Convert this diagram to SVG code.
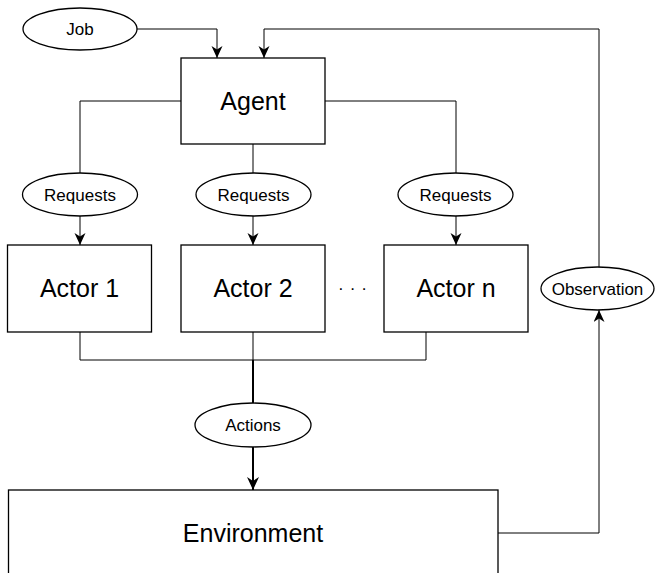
<svg xmlns="http://www.w3.org/2000/svg" width="655" height="573" viewBox="0 0 655 573">
<style>
.box{fill:#fff;stroke:#000;stroke-width:1.3}
.ell{fill:#fff;stroke:#000;stroke-width:1.3}
.big{font-family:"Liberation Sans",Arial,sans-serif;font-size:25px;fill:#000;text-anchor:middle}
.sm{font-family:"Liberation Sans",Arial,sans-serif;font-size:17px;fill:#000;text-anchor:middle}
.ln{fill:none;stroke:#000;stroke-width:1}
.th{fill:none;stroke:#000;stroke-width:2}
</style>
<defs>
<marker id="arr" markerUnits="userSpaceOnUse" markerWidth="13" markerHeight="12" refX="12" refY="5.5" orient="auto">
<path d="M0,0 L12,5.5 L0,11 L3.5,5.5 Z" fill="#000"/>
</marker>
<marker id="arr2" markerUnits="userSpaceOnUse" markerWidth="14" markerHeight="13" refX="13" refY="6" orient="auto">
<path d="M0,0 L13,6 L0,12 L4,6 Z" fill="#000"/>
</marker>
</defs>
<g id="connectors">
<path class="ln" d="M137,29 H217 V58" marker-end="url(#arr)"/>
<path class="ln" d="M599,267 V29 H264 V58" marker-end="url(#arr)"/>
<path class="ln" d="M181,101 H80 V173"/>
<path class="ln" d="M80,216 V245" marker-end="url(#arr)"/>
<path class="ln" d="M253,144 V173"/>
<path class="ln" d="M253,216 V245" marker-end="url(#arr)"/>
<path class="ln" d="M325,101 H456 V173"/>
<path class="ln" d="M456,216 V245" marker-end="url(#arr)"/>
<path class="ln" d="M80,332 V360 H426 V332"/>
<path class="ln" d="M253,332 V360"/>
<path class="th" d="M253,360 V403"/>
<path class="th" d="M253,447 V490" marker-end="url(#arr2)"/>
<path class="ln" d="M498,533 H599 V310" marker-end="url(#arr)"/>
</g>
<g id="job"><ellipse class="ell" cx="80" cy="29" rx="57" ry="21"/><text class="sm" x="80" y="35">Job</text></g>
<g id="agent"><rect class="box" x="181" y="58" width="144" height="86"/><text class="big" x="253" y="110">Agent</text></g>
<g id="req1"><ellipse class="ell" cx="80" cy="194.5" rx="57.5" ry="21.5"/><text class="sm" x="80" y="200.5">Requests</text></g>
<g id="req2"><ellipse class="ell" cx="253.5" cy="194.5" rx="57.5" ry="21.5"/><text class="sm" x="253.5" y="200.5">Requests</text></g>
<g id="req3"><ellipse class="ell" cx="455.5" cy="194.5" rx="57.5" ry="21.5"/><text class="sm" x="455.5" y="200.5">Requests</text></g>
<g id="actor1"><rect class="box" x="7.5" y="245" width="144" height="87"/><text class="big" x="79.5" y="297">Actor 1</text></g>
<g id="actor2"><rect class="box" x="181" y="245" width="144" height="87"/><text class="big" x="253" y="297">Actor 2</text></g>
<g id="dots"><text class="sm" x="356" y="290" letter-spacing="7">...</text></g>
<g id="actorn"><rect class="box" x="384" y="245" width="144" height="87"/><text class="big" x="456" y="297">Actor n</text></g>
<g id="observation"><ellipse class="ell" cx="597.5" cy="288.5" rx="56.5" ry="21.5"/><text class="sm" x="597.5" y="294.5">Observation</text></g>
<g id="actions"><ellipse class="ell" cx="253" cy="425" rx="58" ry="22"/><text class="sm" x="253" y="431">Actions</text></g>
<g id="environment"><rect class="box" x="8.5" y="490" width="489.5" height="100"/><text class="big" x="253" y="542">Environment</text></g>
</svg>
